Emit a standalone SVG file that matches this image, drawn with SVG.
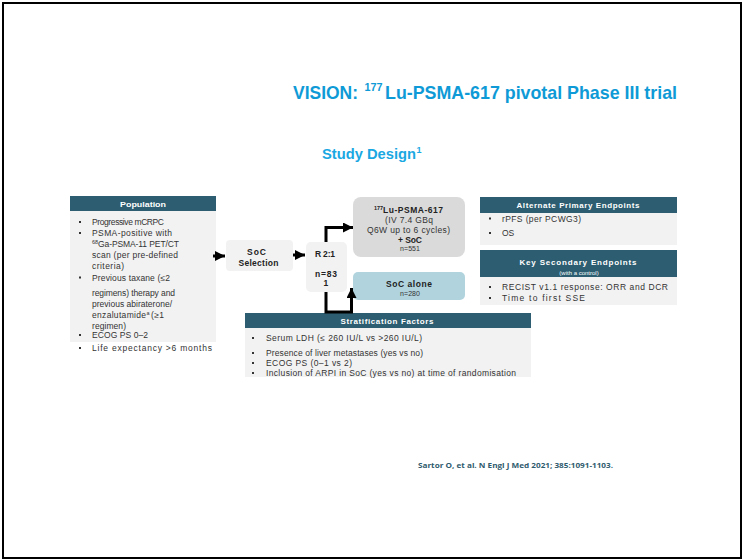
<svg xmlns="http://www.w3.org/2000/svg" width="743" height="560" viewBox="0 0 743 560">
  <style>
    .title { font-family: "Liberation Sans", Arial, sans-serif; font-weight: 700; fill: #0e9ad6; }
    .sub { font-family: "Liberation Sans", Arial, sans-serif; font-weight: 700; fill: #1aa8e2; }
    .hdr { fill: #2c5d70; }
    .body { fill: #f2f2f2; }
    .htxt { font-family: "Liberation Sans", Arial, sans-serif; font-weight: 700; font-size: 8px; fill: #ffffff; text-anchor: middle; }
    .txt { font-family: "Liberation Sans", Arial, sans-serif; font-size: 8.5px; fill: #333333; }
    .btxt { font-family: "Liberation Sans", Arial, sans-serif; font-size: 8.5px; font-weight: 700; fill: #222222; }
    .ctxt { font-family: "Liberation Sans", Arial, sans-serif; font-size: 8.5px; fill: #333333; }
    .small { font-size: 7px; }
    .sup { font-size: 5.5px; }
    .bul { fill: #333333; }
    .conn { fill: none; stroke: #000000; stroke-width: 3; }
    .ref { font-family: "Open Sans", "Liberation Sans", Arial, sans-serif; font-weight: 700; font-size: 7px; fill: #2f5b6e; }
  </style>
  <defs>
    <marker id="arrow" markerUnits="userSpaceOnUse" markerWidth="10" markerHeight="10" refX="10" refY="5" orient="auto">
      <path d="M0,0 L10,5 L0,10 z" fill="#000000"/>
    </marker>
  </defs>

  <rect x="0" y="0" width="743" height="560" fill="#ffffff"/>
  <!-- page frame -->
  <rect x="3" y="3" width="738" height="555" fill="none" stroke="#000000" stroke-width="2"/>

  <!-- headings -->
  <text class="title" x="293" y="99" font-size="19" textLength="65" lengthAdjust="spacingAndGlyphs">VISION:</text>
  <text class="title" x="364.5" y="90.5" font-size="11" textLength="18" lengthAdjust="spacingAndGlyphs">177</text>
  <text class="title" x="385" y="99" font-size="19" textLength="292" lengthAdjust="spacingAndGlyphs">Lu-PSMA-617 pivotal Phase III trial</text>
  <text class="sub" x="322" y="159" font-size="15" textLength="94" lengthAdjust="spacingAndGlyphs">Study Design</text>
  <text class="sub" x="416.5" y="153" font-size="9">1</text>

  <!-- Population -->
  <g id="population">
    <rect class="hdr" x="70" y="196" width="146" height="15"/>
    <rect class="body" x="70" y="211" width="146" height="131"/>
    <text class="htxt" x="143" y="206.5" textLength="46" lengthAdjust="spacingAndGlyphs">Population</text>
    <g class="bul">
      <rect x="79" y="221" width="2" height="2"/>
      <rect x="79" y="232" width="2" height="2"/>
      <rect x="79" y="276.5" width="2" height="2"/>
      <rect x="79" y="334" width="2" height="2"/>
      <rect x="79" y="347" width="2" height="2"/>
    </g>
    <text class="txt" x="92" y="225" textLength="72" lengthAdjust="spacing">Progressive mCRPC</text>
    <text class="txt" x="92" y="236" textLength="80" lengthAdjust="spacing">PSMA-positive with</text>
    <text class="txt sup" x="92" y="244">68</text>
    <text class="txt" x="98" y="247" textLength="81" lengthAdjust="spacing">Ga-PSMA-11 PET/CT</text>
    <text class="txt" x="92" y="258" textLength="86" lengthAdjust="spacing">scan (per pre-defined</text>
    <text class="txt" x="92" y="269" textLength="32" lengthAdjust="spacing">criteria)</text>
    <text class="txt" x="92" y="280.5" textLength="78" lengthAdjust="spacing">Previous taxane (≤2</text>
    <text class="txt" x="92" y="296" textLength="83" lengthAdjust="spacing">regimens) therapy and</text>
    <text class="txt" x="92" y="307" textLength="80" lengthAdjust="spacing">previous abiraterone/</text>
    <text class="txt" x="92" y="318" textLength="54" lengthAdjust="spacing">enzalutamide</text>
    <text class="txt sup" x="146.5" y="315">a</text>
    <text class="txt" x="151" y="318" textLength="13" lengthAdjust="spacing">(≥1</text>
    <text class="txt" x="92" y="329" textLength="34" lengthAdjust="spacing">regimen)</text>
    <text class="txt" x="92" y="338" textLength="56" lengthAdjust="spacing">ECOG PS 0–2</text>
    <text class="txt" x="92" y="351" textLength="120" lengthAdjust="spacing">Life expectancy &gt;6 months</text>
  </g>

  <!-- SoC selection -->
  <g id="soc-selection">
    <rect class="body" x="226" y="240" width="67" height="31" rx="4"/>
    <text class="btxt" x="247" y="255" textLength="19" lengthAdjust="spacing">SoC</text>
    <text class="btxt" x="238.5" y="265.5" textLength="40" lengthAdjust="spacing">Selection</text>
  </g>

  <!-- Randomisation -->
  <g id="randomisation">
    <rect class="body" x="306" y="242" width="41" height="50" rx="5"/>
    <text class="btxt" x="315" y="257" textLength="20" lengthAdjust="spacing">R 2:1</text>
    <text class="btxt" x="315" y="277" textLength="22" lengthAdjust="spacing">n=83</text>
    <text class="btxt" x="323.5" y="286">1</text>
  </g>

  <!-- Treatment arm -->
  <g id="lu-arm">
    <rect x="353" y="197" width="112" height="60" rx="8" fill="#dadada"/>
    <text class="btxt sup" x="374" y="210">177</text>
    <text class="btxt" x="383" y="213" textLength="60" lengthAdjust="spacing">Lu-PSMA-617</text>
    <text class="ctxt" x="385" y="223" textLength="48" lengthAdjust="spacing">(IV 7.4 GBq</text>
    <text class="ctxt" x="367" y="233" textLength="83" lengthAdjust="spacing">Q6W up to 6 cycles)</text>
    <text class="btxt" x="398" y="242.5" textLength="24" lengthAdjust="spacing">+ SoC</text>
    <text class="ctxt small" x="400" y="251" textLength="20" lengthAdjust="spacing">n=551</text>
  </g>

  <!-- Control arm -->
  <g id="soc-arm">
    <rect x="353" y="272" width="112" height="28" rx="5" fill="#b0d3de"/>
    <text class="btxt" x="386" y="287" textLength="46" lengthAdjust="spacing">SoC alone</text>
    <text class="ctxt small" x="400" y="295.5" textLength="20" lengthAdjust="spacing">n=280</text>
  </g>

  <!-- Alternate primary endpoints -->
  <g id="primary-endpoints">
    <rect class="hdr" x="480" y="197" width="197" height="16"/>
    <rect class="body" x="480" y="213" width="197" height="32"/>
    <text class="htxt" x="578" y="208" textLength="123" lengthAdjust="spacing">Alternate Primary Endpoints</text>
    <rect class="bul" x="489" y="217.5" width="2" height="2"/>
    <rect class="bul" x="489" y="232" width="2" height="2"/>
    <text class="txt" x="502" y="221.5" textLength="79" lengthAdjust="spacing">rPFS (per PCWG3)</text>
    <text class="txt" x="502" y="236">OS</text>
  </g>

  <!-- Key secondary endpoints -->
  <g id="secondary-endpoints">
    <rect class="hdr" x="480" y="250" width="197" height="27"/>
    <rect class="body" x="480" y="277" width="197" height="28"/>
    <text class="htxt" x="578" y="265" textLength="117" lengthAdjust="spacing">Key Secondary Endpoints</text>
    <text x="579" y="274.5" font-family="Liberation Sans, Arial, sans-serif" font-size="6" fill="#ffffff" text-anchor="middle">(with a control)</text>
    <rect class="bul" x="489" y="286" width="2" height="2"/>
    <rect class="bul" x="489" y="297" width="2" height="2"/>
    <text class="txt" x="502" y="290" textLength="166" lengthAdjust="spacing">RECIST v1.1 response: ORR and DCR</text>
    <text class="txt" x="502" y="301" textLength="83" lengthAdjust="spacing">Time to first SSE</text>
  </g>

  <!-- Stratification factors -->
  <g id="stratification">
    <rect class="hdr" x="245" y="313" width="286" height="15"/>
    <rect class="body" x="245" y="328" width="286" height="49"/>
    <text class="htxt" x="387" y="323.5" textLength="93" lengthAdjust="spacing">Stratification Factors</text>
    <rect class="bul" x="252" y="337" width="2" height="2"/>
    <rect class="bul" x="252" y="352" width="2" height="2"/>
    <rect class="bul" x="252" y="362" width="2" height="2"/>
    <rect class="bul" x="252" y="372" width="2" height="2"/>
    <text class="txt" x="266" y="341" textLength="156" lengthAdjust="spacing">Serum LDH (≤ 260 IU/L vs &gt;260 IU/L)</text>
    <text class="txt" x="266" y="356" textLength="157" lengthAdjust="spacing">Presence of liver metastases (yes vs no)</text>
    <text class="txt" x="266" y="366" textLength="86" lengthAdjust="spacing">ECOG PS (0–1 vs 2)</text>
    <text class="txt" x="266" y="376" textLength="250" lengthAdjust="spacing">Inclusion of ARPI in SoC (yes vs no) at time of randomisation</text>
  </g>

  <!-- connectors -->
  <g id="connectors">
    <path class="conn" d="M213,256 H225" marker-end="url(#arrow)"/>
    <path class="conn" d="M293,255 H305" marker-end="url(#arrow)"/>
    <path class="conn" d="M326,242 V227.5 H353" marker-end="url(#arrow)"/>
    <path class="conn" d="M326,292 V312 H351.5 V288" marker-end="url(#arrow)"/>
  </g>

  <!-- reference -->
  <text class="ref" x="418" y="467.5" textLength="195" lengthAdjust="spacingAndGlyphs">Sartor O, et al. N Engl J Med 2021; 385:1091-1103.</text>
</svg>
